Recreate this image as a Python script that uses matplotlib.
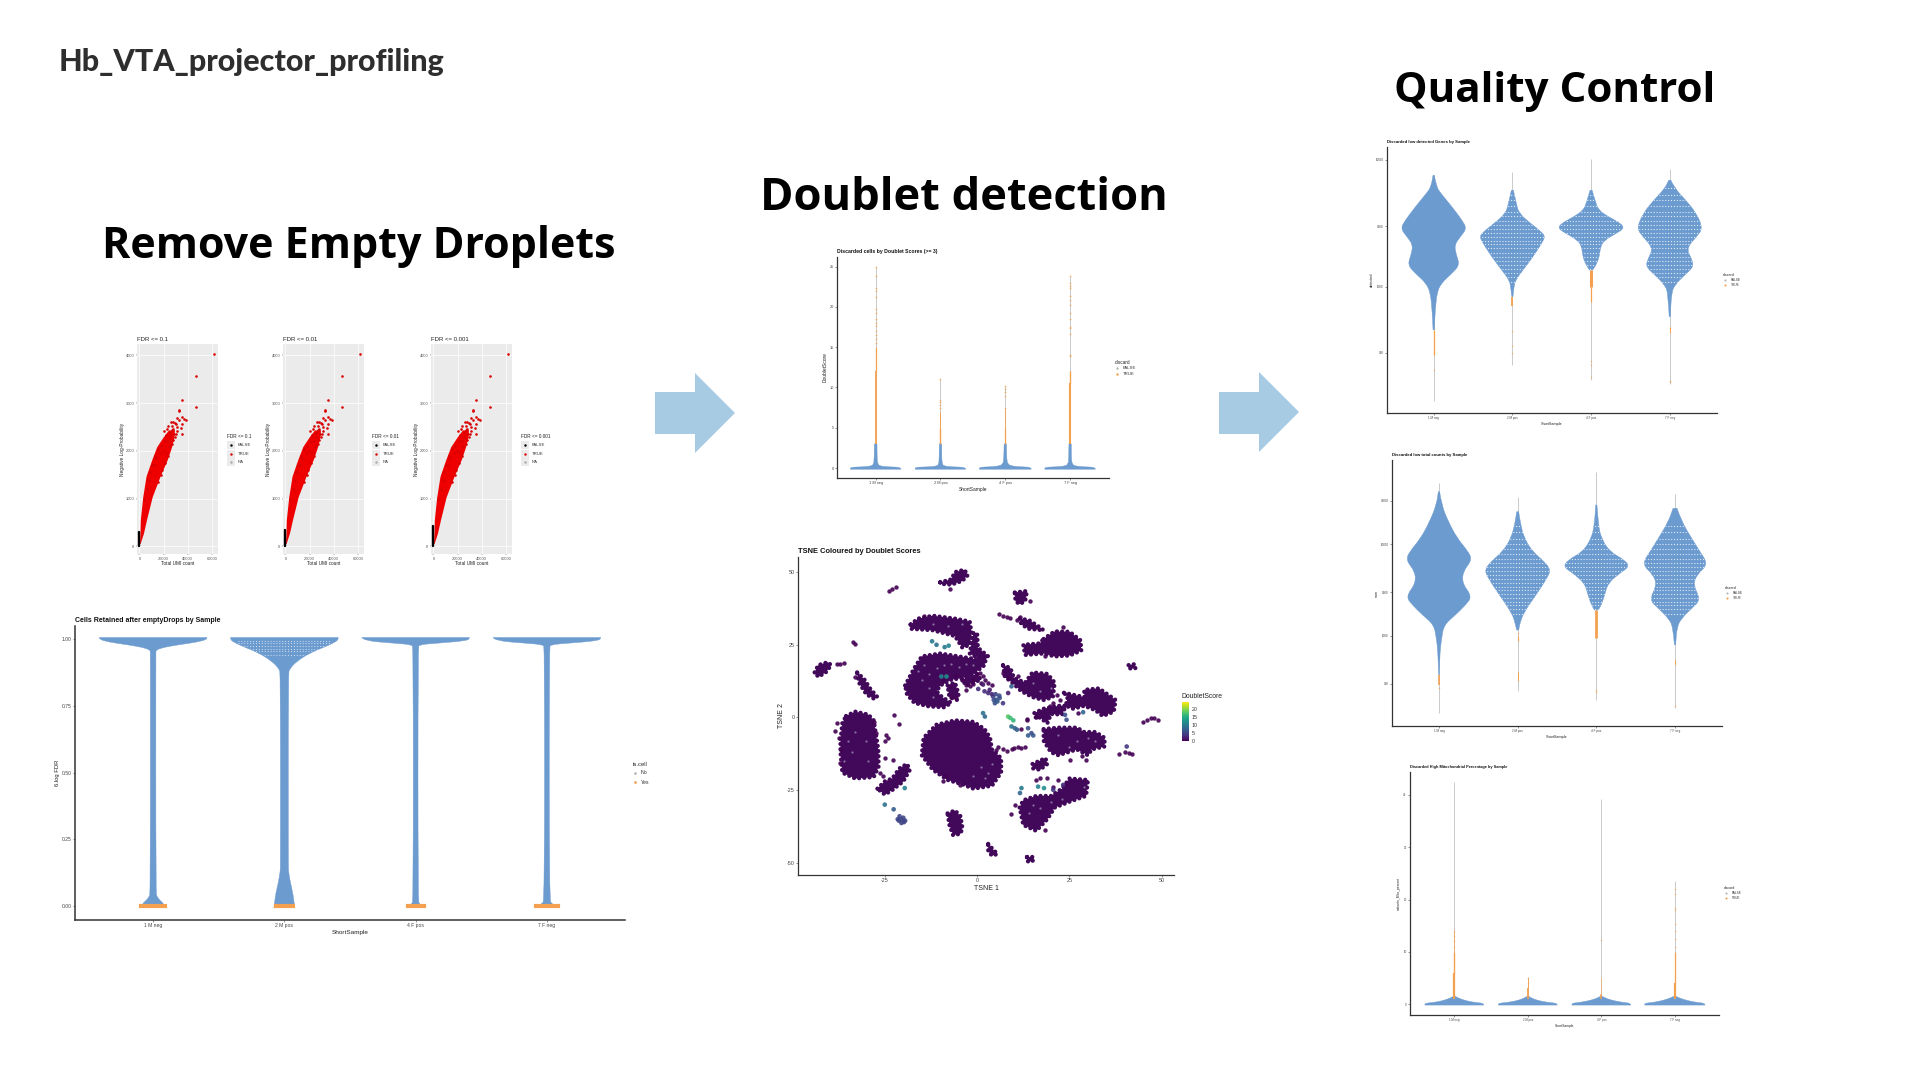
import numpy as np
import matplotlib
matplotlib.use('Agg')
import matplotlib.pyplot as plt
from matplotlib.patches import Polygon, Rectangle, PathPatch
from matplotlib.path import Path

plt.rcParams['font.family'] = ['Liberation Sans', 'DejaVu Sans']
plt.rcParams['axes.unicode_minus'] = False

W, H = 1920, 1080
BLUE = '#6c9bd0'
ORANGE = '#f4a04e'
STEM = '#b5b5b5'
DARK = '#333333'
samples = ['1 M neg', '2 M pos', '4 F pos', '7 F neg']

# ---------- emptyDrops scatter (same barcodes in the three panels)
fdr_titles = ['FDR <= 0.1', 'FDR <= 0.01', 'FDR <= 0.001']
fdr_black_top = [300, 350, 420]
band_y = [60, 280, 560, 1040, 1470, 1820, 2090, 2300, 2440]
band_lo = [0, 400, 700, 2700, 5400, 10200, 14300, 19800, 24000]
band_hi = [500, 3300, 5800, 10500, 17000, 23000, 26600, 28500, 29000]
fdr_x = [62040, 46680, 46680, 34860, 33090, 32500, 31020, 34860, 36930, 38400, 33090, 34860,
         33970, 34860, 29540, 26590, 31020, 25110, 28650, 22150, 31020, 28060, 24000, 26500,
         20000, 21000, 23000, 24000, 25500, 26000, 27500, 28000, 29500, 30000, 30500, 27000, 24500,
         22000, 19500, 18000, 17000, 15500, 14000, 13000, 12000, 24000, 21500, 19000, 17500, 15000,
         8000, 9000, 10500, 6000, 4000]
fdr_y = [4036, 3575, 2919, 3073, 2863, 2828, 2689, 2709, 2668, 2654, 2654, 2570,
         2479, 2360, 2584, 2514, 2500, 2374, 2360, 2339, 2409, 2235, 2520, 2440,
         2420, 2200, 2450, 2200, 2300, 2600, 2450, 2600, 2300, 2560, 2350, 2150, 2100,
         1950, 2000, 2100, 1950, 2050, 1850, 1900, 1700, 1900, 1750, 1600, 1500, 1350,
         1400, 1550, 1700, 1200, 1000]

# ---------- Cells retained after emptyDrops (FDR)
fdr_prof_y = [[-0.006, 0.01, 0.02, 0.035, 0.05, 0.95, 0.96, 0.97, 0.98, 0.99, 1.0, 1.007],
              [-0.006, 0.05, 0.09, 0.13, 0.15, 0.87, 0.89, 0.92, 0.95, 0.97, 0.99, 1.0, 1.007],
              [-0.006, 0.01, 0.02, 0.97, 0.98, 0.985, 0.995, 1.007],
              [-0.006, 0.01, 0.02, 0.97, 0.98, 0.985, 0.995, 1.007]]
fdr_prof_hw = [[0.09, 0.08, 0.055, 0.03, 0.021, 0.021, 0.022, 0.08, 0.2, 0.34, 0.41, 0.41],
               [0.08, 0.065, 0.045, 0.032, 0.03, 0.03, 0.04, 0.10, 0.20, 0.30, 0.39, 0.41, 0.41],
               [0.05, 0.03, 0.018, 0.018, 0.03, 0.15, 0.40, 0.41],
               [0.07, 0.04, 0.018, 0.018, 0.03, 0.15, 0.40, 0.41]]
fdr_orange_hw = [0.09, 0.066, 0.06, 0.085]

# ---------- Doublet score violins
dbl_prof_y = [-0.15, 0.1, 0.14, 0.25, 0.5, 1.0, 3.0]
dbl_prof_hw = [[0.39, 0.39, 0.2, 0.06, 0.035, 0.022, 0.02],
               [0.39, 0.39, 0.18, 0.05, 0.03, 0.02, 0.018],
               [0.40, 0.40, 0.25, 0.09, 0.04, 0.022, 0.018],
               [0.39, 0.39, 0.22, 0.07, 0.035, 0.02, 0.018]]
dbl_stems = [(3, 25), (3, 11.1), (3, 10.2), (3, 23.8)]
dbl_orange = [[(3, 12, 1.3), (12, 15, 0.9)],
              [(3, 5, 1.0), (5, 7, 0.7)],
              [(3, 5, 0.9), (5, 7.3, 0.6)],
              [(3, 10.5, 1.5), (10.5, 12, 1.0)]]
dbl_dots = [[15.5, 16, 16.5, 17, 17.6, 18, 18.5, 19.2, 19.8, 21.2, 22, 22.3, 23.9, 25],
            [7.4, 7.8, 8.2, 8.5, 11.1],
            [7.5, 8.9, 9.5, 9.8, 10.2],
            [13.9, 14, 16.6, 17.4, 17.5, 18.5, 19.2, 20.3, 20.8, 21.3, 22.3, 22.6, 23, 23.8]]

# ---------- Low detected genes violins
gene_prof_y = [[7530, 6100, 5410, 4250, 3340, 2870, 2470, 2125, 1775, 1480, 1270, 1060, 887, 697, 547, 457],
               [5740, 4510, 3770, 3140, 2790, 2500, 2190, 1720, 1350, 1130, 1000, 835],
               [5740, 4800, 4000, 3510, 3140, 2870, 2620, 2320, 2060, 1720, 1480, 1350],
               [6890, 5920, 4800, 3770, 2870, 2470, 2000, 1670, 1435, 1235, 1030, 887, 580]]
gene_prof_hw = [[.008, .034, .093, .233, .36, .42, .34, .263, .288, .33, .233, .093, .042, .025, .013, .008],
                [.013, .05, .085, .233, .34, .42, .373, .263, .136, .042, .021, .008],
                [.013, .05, .093, .233, .38, .42, .318, .17, .119, .106, .064, .021],
                [.013, .064, .203, .34, .42, .34, .212, .275, .305, .19, .064, .021, .008]]
gene_stems = [(125, 7530), (243, 8000), (185, 10170), (170, 8500)]
gene_orange = [[(290, 457, 0.9)], [(700, 835, 1.3)], [(1000, 1350, 2.2), (760, 1000, 0.9)], [(430, 480, 0.7)]]
gene_dots = [[220, 300], [450, 340, 300], [260, 240, 195], [180, 176, 470]]
gene_rows = [6000, 5300, 4800, 4300, 3900, 3600, 3300, 3050, 2850, 2650, 2450, 2300, 2150, 2000,
             1850, 1700, 1600, 1480, 1370, 1270, 1180, 1090]

# ---------- Low total counts violins
sum_prof_y = [[37550, 26850, 17660, 11620, 8320, 6750, 5030, 3750, 2690, 2180, 1700, 1320, 943, 675, 376],
              [22700, 16950, 11620, 8320, 6470, 5250, 4260, 2800, 1840, 1430, 1160],
              [26850, 16250, 11620, 8320, 6750, 5700, 4830, 3750, 2800, 2180, 1920],
              [24700, 17660, 11620, 8320, 6050, 4630, 3600, 2470, 2000, 1560, 1260, 800]]
sum_prof_hw = [[.008, .034, .119, .233, .373, .42, .305, .297, .42, .339, .212, .064, .034, .013, .004],
               [.013, .034, .085, .19, .34, .42, .373, .233, .085, .034, .013],
               [.008, .025, .064, .17, .36, .42, .297, .148, .106, .064, .025],
               [.025, .085, .212, .318, .42, .275, .233, .325, .212, .085, .025, .008]]
sum_stems = [(143, 46300), (251, 33100), (200, 62000), (162, 35100)]
sum_orange = [[(290, 376, 1.2)], [(880, 1000, 0.8), (320, 400, 0.7)], [(943, 1920, 2.0)], [(480, 540, 0.6)]]
sum_dots = [[270], [1080], [247, 260], [172]]
sum_rows = [16000, 13500, 11500, 10000, 8800, 7800, 7000, 6300, 5700, 5100, 4600, 4200, 3800, 3450,
            3150, 2850, 2600, 2350, 2150, 1950, 1750]

# ---------- Mito percentage violins
mito_prof_y = [-0.2, 0.15, 0.3, 0.6, 1.0, 1.4, 1.5]
mito_prof_hw = [[0.40, 0.40, 0.28, 0.17, 0.08, 0.02, 0.01],
                [0.40, 0.40, 0.28, 0.16, 0.07, 0.02, 0.01],
                [0.40, 0.40, 0.30, 0.18, 0.08, 0.02, 0.01],
                [0.41, 0.41, 0.30, 0.19, 0.09, 0.025, 0.01]]
mito_stems = [(1.5, 42.5), (1.5, 5.1), (1.5, 39.3), (1.5, 23.5)]
mito_orange = [[(1, 6, 1.6), (6, 10, 1.0), (10, 14, 0.5)],
               [(1, 3, 1.3), (3, 5, 0.6)],
               [(1, 2, 1.1), (2, 5, 0.4)],
               [(1, 4, 1.6), (4, 10, 0.9)]]
mito_dots = [[11, 12, 13, 14], [4, 5], [12.2], [11, 12.5, 14, 15.3, 18, 18.3, 21, 22]]

# ---------- TSNE, cluster outlines and loose points
tsne_blobs = [
    [(-44, 15.5), (-43, 18), (-40.5, 19), (-39.5, 18), (-41, 15.5), (-43, 14)],
    [(-32.5, 15.5), (-30.5, 13), (-29, 10), (-27, 7), (-28, 6.5), (-30, 8), (-32, 12)],
    [(-35.5, 0.5), (-33, 2), (-29.5, 1), (-28, -1), (-27.5, -5), (-27, -9), (-26.7, -12), (-26.7, -17), (-28, -20.5),
     (-33, -21), (-36.5, -19), (-37, -12), (-37, -8), (-36.5, -2)],
    [(-11, -2.5), (-6, -1), (-1, -1.5), (2, -4), (3.5, -7), (4, -11), (6.5, -14), (6.5, -19), (4, -23.5), (-1, -24.5),
     (-4, -23), (-8, -21.5), (-12, -18), (-15, -13), (-14.5, -7)],
    [(-19.5, 11), (-17, 17), (-15, 21), (-10, 22), (-5, 21), (0, 20), (2.5, 21), (2, 18), (-2, 14), (-7, 13),
     (-10, 11), (-11, 9), (-9.5, 7), (-7, 5), (-9, 3.5), (-13, 3.8), (-17, 5), (-19, 8)],
    [(-18, 32), (-16, 34), (-12, 35), (-6, 34), (-2, 33), (-1.5, 29), (-2, 25), (-4, 24), (-6, 28), (-12, 30), (-18, 30.5)],
    [(-1, 29), (0, 29), (0.2, 24), (3, 21), (1, 20), (-2, 22)],
    [(-10, 46.5), (-7, 47.5), (-6, 50), (-3.5, 50.8), (-2.5, 49), (-4, 47), (-7, 45.7), (-10, 46)],
    [(10.2, 43), (13.5, 43.5), (13, 40), (11.5, 39), (10.4, 40)],
    [(18, 27), (21, 29.6), (25, 29.5), (28, 26.5), (28.2, 23), (25, 21.3), (21, 21), (18, 22), (13, 21.5), (12.5, 25), (17, 25.5)],
    [(11.5, 34), (14, 33.5), (17, 31), (18, 30), (14, 30.5), (12, 32)],
    [(41, 18), (42.5, 18.3), (43, 17), (41.5, 16.8)],
    [(7, 18), (9, 17), (10, 13.5), (13, 12), (15, 15.5), (19, 15), (21, 12), (20.5, 7), (18, 6), (15, 7), (12, 9), (9.5, 12), (7.5, 14)],
    [(23.5, 8.5), (29, 7), (29, 9.5), (33, 10), (37.5, 6), (37, 2), (34, 0.5), (32, 2.5), (29, 4), (26, 3), (24, 4), (24.5, 7)],
    [(15.5, 1.5), (18, 3), (22, 4), (24, 4), (23, 1), (20, 1.2), (19, -2), (17, 0), (16, -0.5)],
    [(18, -4), (22, -3.5), (27, -3.5), (29, -5), (32, -5), (34.5, -7), (34.5, -10), (31, -11), (30, -13), (27, -11),
     (22, -13), (20, -12), (18, -8)],
    [(15, -16), (18.5, -14), (19, -16), (17, -18), (15, -17.5)],
    [(11.5, -31), (12.5, -28.5), (16, -27), (20, -27), (23, -24.5), (25, -21), (30, -21.5), (29.5, -27), (25, -29), (21, -31),
     (19, -35), (16, -39), (12.5, -37)],
    [(-8, -33), (-6, -32), (-4.5, -34), (-4, -38), (-4.5, -40), (-6.5, -40.5), (-7.5, -37)],
    [(3, -43.5), (4, -45), (5.5, -47), (4, -47.5), (3, -46)],
    [(13.5, -48), (15.3, -48), (15, -49.5), (13.5, -49.5)],
    [(-27, -24.5), (-25, -22), (-23, -21), (-21, -17.5), (-19, -16), (-18.2, -18), (-20, -22), (-23, -25), (-25, -26.5)],
    [(-8, 11), (-6, 12), (-5, 8), (-5.5, 6), (-7.5, 7)],
    [(-4, 13), (0, 15), (1, 13), (-3, 11)],
]
tsne_x = [0.3, 1.6, 3, 4.3, 5.2, 6.1, 4.8, 3.4, 7, 8.4, 9.3, 1.6, 2.1, 8.4, 9, 9.8, 9.3, 10.2, 10.8, 13.8, 13.8, 15.2, 14.7,
          23.8, 24.2, 28.7, -12.2, -11, -8.8, -7.7, -9.7, -8.3, -25, -22.6, -20.5, -21.5, -19.5, -20.5, -19.6, 12, 11.6,
          16.5, 18.1, 20.6, 23.3, 40.5, 4, 5, 6, 5.5, 4.5, 2, -21, -20, -19.8, -21.2]
tsne_y = [9.8, 11.3, 8.4, 7.2, 6.1, 6.7, 4.9, 9.5, 4.9, 8.4, 10.7, 1.5, 0.3, 0.3, -0.2, -1, -3.1, -3.7, -4.2, -3.7, -6.2, -6.2, -5.4,
          0.9, -0.8, 1.8, 26.2, 25, 24.2, 24.7, 14.1, 14.1, -30, -31.6, -35.2, -35, -35.5, -36.3, -24.3, -24.3, -26,
          -23.8, -24.3, -24.9, -23.2, -10, 8, 8, 7.5, 5.5, 6, 9, -34, -34.5, -36, -35.5]
tsne_score = [3, 2, 3, 5, 7, 6, 6, 2, 4, 2, 7, 9, 8, 18, 17, 16, 9, 8, 7, 6, 7, 7, 6,
              6, 6, 8, 10, 9, 10, 11, 11, 12, 9, 7, 5, 5, 5, 5, 11, 10, 8,
              11, 12, 4, 3, 4, 3, 5, 6, 7, 6, 3, 5, 5, 5, 5]
dark_x = [-38, -37, -36, -23.8, -23, -22, -33.5, -33.2, 6, 7, 8, 9, -33, -22.6, -21.2, 45, 46, 47, 48, 49, 38.5, 40, 41, 42,
          -24.6, -24, -25, -38, -38.5, -37.5, -9.2, -7.4, -5.6, -4.2, -2.9, -2, -1.1, 0.7, 1.6, -2.9, -7, -5.6,
          21.5, 22.4, 20.6, 19.7, 29.6, 28.3, 25.1, 27.4, 7, 8.4, 11.1, 5.7, 5.2, -8.3, -9.2, -4.7, 9.3, 10.2, 18.3, 20.6,
          -37.2, -36.9, -28, -27.3, -25.5, -26.4, -25, -22.9, -14.4, -7.3, 14.3, 23.3, 18.3, 10.7, 11.7,
          10, 11, 12, 13, 9.5, 13.4, 7, 8, 2, 3, 4, 0, 1, -1, 16, 17, 12, 13.5, 16, 19, 22, 24]
dark_y = [18.5, 18.5, 18.6, 43.5, 44.2, 44.8, 26, 25.2, 35.5, 35, 34.7, 34.3, 14, 0.9, -2.3, -1.5, -0.8, -0.3, -0.3, -0.8, -12.5, -12, -12.3, -12.6,
          -6, -7, -8, -1.8, -4.5, -7, 12.4, 10.7, 14.1, 13, 11.3, 10.7, 11.6, 15.3, 14.1, 9.5, 7.2, 6.7,
          7.8, 6.1, 4.9, 3.8, -14.6, -13.4, -14.6, 1.5, 15.3, 13.5, 14.1, -10, -11.1, -20.3, -22, -23.2, -33.2, -30, -38.7, -23.8,
          -15.7, -11.1, -1.7, -5.4, -20.3, -19.2, -14, -14.6, 35, 44.2, 40.2, 31.1, 21, 33.6, 34.6,
          -10.6, -10.3, -10.6, -10.2, -11, -0.6, -11, -11.5, 13, 12, 11, 15, 12, 13, -21.5, -21, -4, -1, 0, -21, -21.5, -23]
speck_x = [-16, -14.5, -13, -11, -9, -7, -5, -3, -1, -15, -13, -12, 1, 3, 4, 2, -1, -33, -34, -30, -29.5, -36, -35,
           -12, -8, -4, 22, 27, 30, 25, 15, 17, 20, 14, 23, 29, 32, 17, 20, 15]
speck_y = [16, 18, 15, 17, 18, 18.5, 17.5, 18.5, 18, 13, 10, 7, -17, -19, -16, -21, -20, -5, -12, -8, -15, -15, -8,
           32, 31.5, 32, -6, -8, -7, -10, 12, 9, 10, -33, -28, -24, -8, -31, -29, -30]


fig = plt.figure(figsize=(W / 100, H / 100), dpi=100, facecolor='white')
page = fig.add_axes([0, 0, 1, 1], zorder=5)
page.set_xlim(0, W)
page.set_ylim(H, 0)
page.axis('off')


def box(x0, y0, x1, y1):
    # axes from pixel corners of the slide
    return fig.add_axes([x0 / W, 1 - y1 / H, (x1 - x0) / W, (y1 - y0) / H])


def clean_axes(ax, title, xlabel, ylabel, tsize, lsize, ticksize, lw=0.9):
    for s in ['top', 'right']:
        ax.spines[s].set_visible(False)
    for s in ['left', 'bottom']:
        ax.spines[s].set_linewidth(lw)
        ax.spines[s].set_color(DARK)
    ax.tick_params(length=1.2, width=0.4, labelsize=ticksize, pad=1.2, colors='#444444')
    ax.set_title(title, loc='left', fontsize=tsize, fontweight='bold', pad=3, color='#111111')
    ax.set_xlabel(xlabel, fontsize=lsize, labelpad=1, color='#222222')
    ax.set_ylabel(ylabel, fontsize=lsize, labelpad=1.5, color='#222222')


def violin_patch(ax, c, y, hw):
    # outline as quadratic curves with the read values as control points
    log = ax.get_yscale() == 'log'
    right = [(c + h, v) for h, v in zip(hw, y)]
    left = [(c - h, v) for h, v in zip(hw, y)][::-1]
    def half(pts, first):
        verts, codes = [pts[0]], [first]
        for i in range(1, len(pts) - 1):
            a, b = pts[i], pts[i + 1]
            my = np.sqrt(a[1] * b[1]) if log else (a[1] + b[1]) / 2
            verts += [a, ((a[0] + b[0]) / 2, my)]
            codes += [Path.CURVE3, Path.CURVE3]
        verts.append(pts[-1])
        codes.append(Path.LINETO)
        return verts, codes
    v1, c1 = half(right, Path.MOVETO)
    v2, c2 = half(left, Path.LINETO)
    return PathPatch(Path(v1 + v2 + [v1[0]], c1 + c2 + [Path.CLOSEPOLY]), fc=BLUE, ec=BLUE, lw=0.3, zorder=2)


def draw_violins(ax, ys, hws, stems=None, orange=None, dots=None, rows=None, dot_s=1.2):
    bodies = []
    for i in range(4):
        c = i + 1
        y = ys[i] if isinstance(ys[0], list) else ys
        if stems:
            ax.plot([c, c], stems[i], color=STEM, lw=0.5, zorder=1, solid_capstyle='butt')
        body = violin_patch(ax, c, y, hws[i])
        ax.add_patch(body)
        bodies.append(body)
        if rows and i > 0:
            ln = ax.hlines(rows, c - 0.5, c + 0.5, colors='white', lw=0.8, linestyles=(0, (1, 1.6)), alpha=0.8, zorder=3)
            ln.set_clip_path(body)
        if orange:
            for lo, hi, w in orange[i]:
                ax.plot([c, c], [lo, hi], color=ORANGE, lw=w, zorder=4, solid_capstyle='butt')
        if dots:
            ax.scatter([c] * len(dots[i]), dots[i], s=dot_s, color=ORANGE, alpha=0.75, lw=0, zorder=4)
    ax.set_xticks([1, 2, 3, 4])
    ax.set_xticklabels(samples)
    return bodies


def legend_block(x, y, title, labels, colors, size, step, key=None):
    page.text(x, y, title, fontsize=size, va='center', color='#222222')
    for i, (lab, col) in enumerate(zip(labels, colors)):
        yy = y + step * (i + 1)
        if key:
            page.add_patch(Rectangle((x, yy - key / 2), key, key, color='#ebebeb', lw=0))
        page.scatter([x + (key / 2 if key else 2)], [yy], s=size * 0.9, color=col, lw=0)
        page.text(x + (key + 2.5 if key else 8), yy, lab, fontsize=size * 0.9, va='center', color='#333333')


def big_arrow(x0, x1, xh, y0, y1, s0, s1):
    pts = [(x0, s0), (xh, s0), (xh, y0), (x1, (y0 + y1) / 2), (xh, y1), (xh, s1), (x0, s1)]
    page.add_patch(Polygon(pts, closed=True, color='#a7cbe2', lw=0))


# ---- headings
page.text(59, 62, 'Hb_VTA_projector_profiling', fontsize=22, family='Lato', fontweight='black', va='center', color='#2e2e2e')
page.text(359, 246, 'Remove Empty Droplets', fontsize=31, family='Open Sans', fontweight='bold', ha='center', va='center', color='black')
page.text(964, 199, 'Doublet detection', fontsize=32.6, family='Open Sans', fontweight='bold', ha='center', va='center', color='black')
page.text(1555, 91, 'Quality Control', fontsize=30.3, family='Open Sans', fontweight='bold', ha='center', va='center', color='black')
big_arrow(655, 735, 695, 373, 453, 392, 434)
big_arrow(1219, 1299, 1259, 372, 452, 392, 434)

# ---- FDR scatter panels
for k, (x0, x1) in enumerate([(137, 218), (283, 364), (431, 512)]):
    ax = box(x0, 344, x1, 554)
    ax.set_facecolor('#ebebeb')
    ax.fill_betweenx(band_y, band_lo, band_hi, color='#ee0000', lw=0, zorder=3)
    ax.scatter(fdr_x, fdr_y, s=3.5, color='#d90000', lw=0, zorder=3)
    ax.plot([0, 0], [0, fdr_black_top[k]], color='black', lw=1.7, zorder=4, solid_capstyle='round')
    ax.set_xlim(-2070, 65000)
    ax.set_ylim(-160, 4240)
    ax.set_xticks([0, 20000, 40000, 60000])
    ax.set_yticks([0, 1000, 2000, 3000, 4000])
    ax.grid(color='white', lw=0.5)
    ax.set_axisbelow(True)
    for s in ax.spines.values():
        s.set_visible(False)
    ax.tick_params(length=1, width=0.35, labelsize=2.9, pad=0.8, colors='#555555')
    ax.set_title(fdr_titles[k], loc='left', fontsize=4.3, pad=2, color='#222222')
    ax.set_xlabel('Total UMI count', fontsize=3.4, labelpad=0.4, color='#222222')
    ax.set_ylabel('Negative Log-Probability', fontsize=3.4, labelpad=0.6, color='#222222')
    legend_block([227, 372, 521][k], 437, fdr_titles[k], ['FALSE', 'TRUE', 'NA'],
                 ['black', '#d90000', '#aaaaaa'], 3.4, 8.4, key=8)

# ---- cells retained violins
ax = box(75, 626, 625, 920)
bodies = draw_violins(ax, fdr_prof_y, fdr_prof_hw)
row_lines = [0.995, 0.985, 0.975, 0.965, 0.955, 0.94]
for y in row_lines:
    ln = ax.plot([1.65, 2.35], [y, y], color='white', lw=0.7, ls=(0, (1, 2)), alpha=0.7, zorder=3)[0]
    ln.set_clip_path(bodies[1])
for i, hw in enumerate(fdr_orange_hw):
    ax.plot([i + 1 - hw, i + 1 + hw], [0, 0], color=ORANGE, lw=3, zorder=4)
ax.set_xlim(0.405, 4.595)
ax.set_ylim(-0.052, 1.05)
ax.set_yticks([0, 0.25, 0.5, 0.75, 1])
ax.set_yticklabels(['0.00', '0.25', '0.50', '0.75', '1.00'])
clean_axes(ax, 'Cells Retained after emptyDrops by Sample', 'ShortSample', '-log10 FDR', 5, 4.6, 3.6, lw=1.1)
ax.set_ylabel('6.log FDR', fontsize=4.2, labelpad=1.5)
legend_block(633, 764, 'is.cell', ['No', 'Yes'], [STEM, ORANGE], 4.2, 9)

# ---- doublet violins
ax = box(837, 257, 1109, 478)
draw_violins(ax, dbl_prof_y, dbl_prof_hw, dbl_stems, dbl_orange, dbl_dots, dot_s=1.6)
ax.set_xlim(0.403, 4.6)
ax.set_ylim(-1.24, 26.2)
ax.set_yticks([0, 5, 10, 15, 20, 25])
clean_axes(ax, 'Discarded cells by Doublet Scores (>= 3)', 'ShortSample', 'DoubletScore', 3.7, 3.5, 2.8)
legend_block(1115, 362, 'discard', ['FALSE', 'TRUE'], [STEM, ORANGE], 3.4, 6)

# ---- TSNE
ax = box(798, 557, 1174, 875)
for pts in tsne_blobs:
    # beaded edge so the outline reads as overlapping dots
    ax.add_patch(Polygon(pts, closed=True, fc='#42095a', ec='#42095a', lw=3.1, ls=(0, (0.01, 1.2)),
                         capstyle='round', joinstyle='round', zorder=2))
ax.scatter(speck_x, speck_y, s=2.5, color='#8a6fa2', lw=0, zorder=3)
ax.scatter(dark_x, dark_y, s=10, color='#440154', lw=0, alpha=0.9, zorder=3)
sc = ax.scatter(tsne_x, tsne_y, c=tsne_score, cmap='viridis', vmin=0, vmax=24.5, s=11, lw=0, alpha=0.9, zorder=4)
ax.set_xlim(-48.5, 53.3)
ax.set_ylim(-54.2, 55.2)
ax.set_xticks([-25, 0, 25, 50])
ax.set_yticks([-50, -25, 0, 25, 50])
clean_axes(ax, 'TSNE Coloured by Doublet Scores', 'TSNE 1', 'TSNE 2', 5.4, 5, 3.9)
cax = box(1182, 702, 1189, 741)
cb = fig.colorbar(sc, cax=cax, ticks=[0, 5, 10, 15, 20])
cb.solids.set_alpha(1)
cb.outline.set_visible(False)
cax.tick_params(length=0, labelsize=3.8, pad=2, colors='#333333')
page.text(1182, 696, 'DoubletScore', fontsize=4.9, va='center', color='#222222')

# ---- QC genes
ax = box(1387, 147, 1717, 413)
ax.set_yscale('log')
draw_violins(ax, gene_prof_y, gene_prof_hw, gene_stems, gene_orange, gene_dots, gene_rows)
ax.set_xlim(0.407, 4.6)
ax.set_ylim(101, 12570)
ax.set_yticks([300, 1000, 3000, 10000])
ax.set_yticklabels(['300', '1000', '3000', '10000'])
ax.minorticks_off()
clean_axes(ax, 'Discarded low detected Genes by Sample', 'ShortSample', 'detected', 3.1, 2.7, 2.2)
legend_block(1723, 275, 'discard', ['FALSE', 'TRUE'], [STEM, ORANGE], 2.6, 5)

# ---- QC sum
ax = box(1392, 460, 1722, 726)
ax.set_yscale('log')
draw_violins(ax, sum_prof_y, sum_prof_hw, sum_stems, sum_orange, sum_dots, sum_rows)
ax.set_xlim(0.403, 4.597)
ax.set_ylim(104, 83200)
ax.set_yticks([300, 1000, 3000, 10000, 30000])
ax.set_yticklabels(['300', '1000', '3000', '10000', '30000'])
ax.minorticks_off()
clean_axes(ax, 'Discarded low total counts by Sample', 'ShortSample', 'sum', 3.1, 2.7, 2.2)
legend_block(1725, 588, 'discard', ['FALSE', 'TRUE'], [STEM, ORANGE], 2.6, 5)

# ---- QC mito
ax = box(1410, 772, 1719, 1015)
draw_violins(ax, mito_prof_y, mito_prof_hw, mito_stems, mito_orange, mito_dots)
ax.set_xlim(0.397, 4.6)
ax.set_ylim(-2.1, 44.4)
ax.set_yticks([0, 10, 20, 30, 40])
clean_axes(ax, 'Discarded High Mitochondrial Percentage by Sample', 'ShortSample', 'subsets_Mito_percent', 2.8, 2.4, 2.1)
legend_block(1724, 888, 'discard', ['FALSE', 'TRUE'], [STEM, ORANGE], 2.5, 5)

fig.savefig('out.png', dpi=100, facecolor='white')
